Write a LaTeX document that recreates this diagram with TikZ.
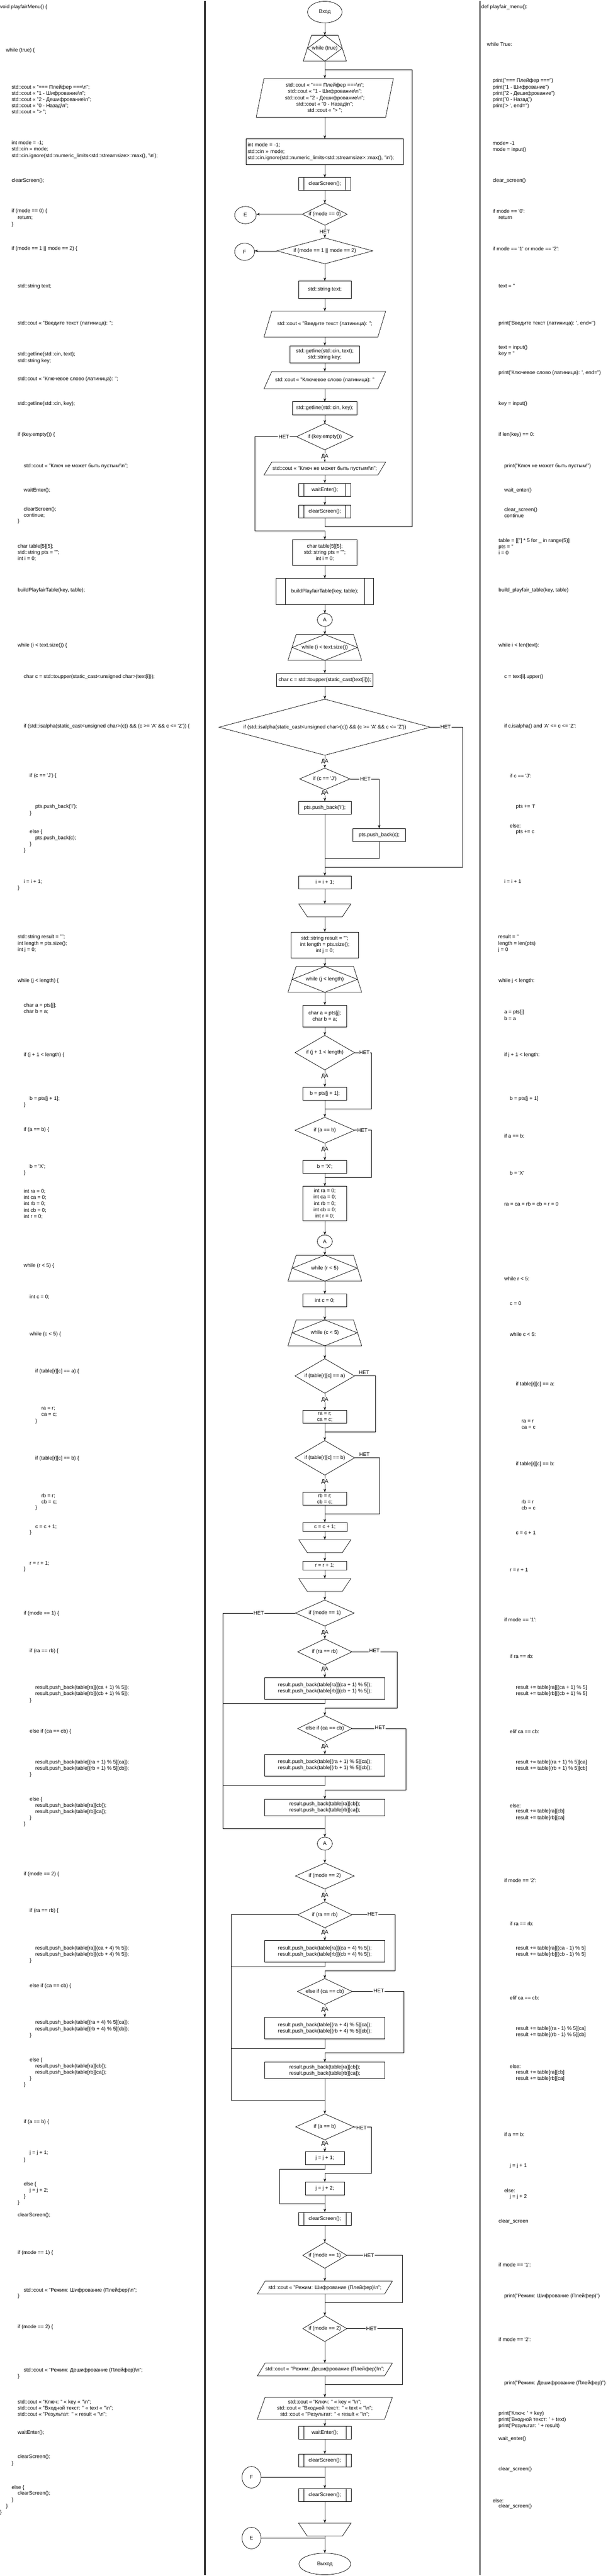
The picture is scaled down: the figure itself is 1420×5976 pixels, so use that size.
\documentclass[tikz,border=0pt]{standalone}
\usepackage{fontspec}
\setmainfont{Liberation Sans}
\usetikzlibrary{arrows.meta,shapes.geometric}
\newcommand\sq{\textquotesingle}
\newcommand\bsn{\textbackslash n}
\newcommand\Pio[1]{\draw[ln] ([xshift=18pt]#1.north west) -- (#1.north east) -- ([xshift=-18pt]#1.south east) -- (#1.south west) -- cycle;}
\newcommand\Pdia[1]{\draw[ln] (#1.north) -- (#1.east) -- (#1.south) -- (#1.west) -- cycle;}
\newcommand\Ploop[1]{\draw[ln] ([xshift=19pt]#1.north west) -- ([xshift=-19pt]#1.north east) -- (#1.south east) -- (#1.south west) -- cycle;
  \draw[ln] (#1.north) -- ([xshift=-10pt]#1.east) -- (#1.south) -- ([xshift=10pt]#1.west) -- cycle;}
\newcommand\Pend[1]{\draw[ln] (#1.north west) -- (#1.north east) -- ([xshift=-20pt]#1.south east) -- ([xshift=20pt]#1.south west) -- cycle;}
\tikzset{
  ln/.style={line width=0.9pt},
  arr/.style={ln,-{Stealth[length=8pt,width=5.5pt]}},
  box/.style={draw,ln,inner sep=2pt,outer sep=0pt,align=center},
  prebox/.style={box,path picture={\draw[ln] ([xshift=#1]path picture bounding box.north west) -- ([xshift=#1]path picture bounding box.south west); \draw[ln] ([xshift=-#1]path picture bounding box.north east) -- ([xshift=-#1]path picture bounding box.south east);}},
  prebox/.default=12pt,
  shp/.style={inner sep=1pt,outer sep=0pt,align=center},
  termx/.style={draw,ln,ellipse,inner sep=0pt,outer sep=0pt},
  cd/.style={anchor=west,inner sep=0pt,outer sep=0pt,align=left},
  lbl/.style={fill=white,inner sep=1.5pt},
}
\begin{document}
\begin{tikzpicture}[x=1pt,y=-1pt,font=\fontsize{12}{14.5}\selectfont]
\fill[white] (0,0) rectangle (1420,5976);
\useasboundingbox (0,0) rectangle (1420,5976);
\draw[line width=3pt] (475,2) -- (475,5974);
\draw[line width=3pt] (1113,2) -- (1113,5974);

% ---------------- flowchart nodes ----------------
\node[termx,minimum width=80pt,minimum height=50pt] (start) at (753,28) {Вход};
\node[shp,minimum width=100pt,minimum height=60pt] (L1) at (753,112) {while (true)}; \Ploop{L1}
\coordinate (J1) at (753,162);
\node[shp,minimum width=318pt,minimum height=90pt] (io1) at (753,227) {std::cout << "=== Плейфер ===\bsn";\\std::cout << "1 - Шифрование\bsn";\\std::cout << "2 - Дешифрование\bsn";\\std::cout << "0 - Назад\bsn";\\std::cout << "> ";}; \Pio{io1}
\node[box,minimum width=364pt,minimum height=60pt,text width=358pt,align=left] (b1) at (753,352) {int mode = -1;\\std::cin >> mode;\\std::cin.ignore(std::numeric\_limits<std::streamsize>::max(), \sq\bsn\sq);};
\node[prebox,minimum width=121pt,minimum height=30pt] (cs1) at (753,427) {clearScreen();};
\node[shp,minimum width=104pt,minimum height=51pt] (d1) at (753,497) {if (mode == 0)}; \Pdia{d1}
\node[termx,minimum width=50pt,minimum height=40pt] (E1) at (569,499) {E};
\node[shp,minimum width=222pt,minimum height=60pt] (d2) at (753,582) {if (mode == 1 || mode == 2)}; \Pdia{d2}
\node[termx,minimum width=46pt,minimum height=40pt] (F1) at (567,584) {F};
\node[box,minimum width=122pt,minimum height=40pt] (b2) at (753,672) {std::string text;};
\node[shp,minimum width=282pt,minimum height=60pt] (io2) at (753,752) {std::cout << "Введите текст (латиница): ";}; \Pio{io2}
\node[box,minimum width=162pt,minimum height=40pt] (b3) at (753,822) {std::getline(std::cin, text);\\std::string key;};
\node[shp,minimum width=282pt,minimum height=40pt] (io3) at (753,882) {std::cout << "Ключевое слово (латиница): "}; \Pio{io3}
\node[box,minimum width=149pt,minimum height=30pt] (b4) at (753,947) {std::getline(std::cin, key);};
\node[shp,minimum width=131pt,minimum height=61pt] (d3) at (753,1013) {if (key.empty())}; \Pdia{d3}
\node[shp,minimum width=282pt,minimum height=30pt] (io4) at (753,1087) {std::cout << "Ключ не может быть пустым!\bsn";}; \Pio{io4}
\node[prebox,minimum width=121pt,minimum height=30pt] (pw1) at (753,1136) {waitEnter();};
\node[prebox,minimum width=121pt,minimum height=30pt] (pc2) at (753,1187) {clearScreen();};
\node[box,minimum width=149pt,minimum height=60pt] (b5) at (753,1282) {char table[5][5];\\std::string pts = "";\\int i = 0;};
\node[prebox=21pt,minimum width=226pt,minimum height=60pt] (pb) at (753,1372) {buildPlayfairTable(key, table);};
\node[termx,minimum width=35pt,minimum height=30pt] (A1) at (753,1438) {A};
\node[shp,minimum width=171pt,minimum height=60pt] (L2) at (753,1502) {while (i < text.size())}; \Ploop{L2}
\node[box,minimum width=223pt,minimum height=30pt] (b6) at (753,1577) {char c = std::toupper(static\_cast(text[i]));};
\node[shp,minimum width=490pt,minimum height=130pt] (d4) at (753,1687) {if (std::isalpha(static\_cast<unsigned char>(c)) \&\& (c >= \sq A\sq\ \&\& c <= \sq Z\sq))}; \Pdia{d4}
\node[shp,minimum width=117pt,minimum height=50pt] (d5) at (753,1807) {if (c == \sq J\sq)}; \Pdia{d5}
\node[box,minimum width=122pt,minimum height=30pt] (b7) at (753,1874) {pts.push\_back(\sq I\sq);};
\node[box,minimum width=122pt,minimum height=30pt] (b8) at (879,1937) {pts.push\_back(c);};
\node[box,minimum width=122pt,minimum height=30pt] (b9) at (753,2047) {i = i + 1;};
\node[shp,minimum width=121pt,minimum height=30pt] (LE1) at (753,2112) {}; \Pend{LE1}
\node[box,minimum width=156pt,minimum height=60pt] (b10) at (753,2192) {std::string result = "";\\int length = pts.size();\\int j = 0;};
\node[shp,minimum width=171pt,minimum height=60pt] (L3) at (753,2272) {while (j < length)}; \Ploop{L3}
\node[box,minimum width=102pt,minimum height=50pt] (b11) at (753,2357) {char a = pts[j];\\char b = a;};
\node[shp,minimum width=138pt,minimum height=80pt] (d6) at (753,2442) {if (j + 1 < length)}; \Pdia{d6}
\node[box,minimum width=102pt,minimum height=30pt] (b12) at (753,2537) {b = pts[j + 1];};
\node[shp,minimum width=138pt,minimum height=60pt] (d7) at (753,2622) {if (a == b)}; \Pdia{d7}
\node[box,minimum width=102pt,minimum height=30pt] (b13) at (753,2707) {b = \sq X\sq;};
\node[box,minimum width=102pt,minimum height=80pt] (b14) at (753,2792) {int ra = 0;\\int ca = 0;\\int rb = 0;\\int cb = 0;\\int r = 0;};
\node[termx,minimum width=35pt,minimum height=30pt] (A2) at (753,2880) {A};
\node[shp,minimum width=171pt,minimum height=60pt] (L4) at (753,2942) {while (r < 5)}; \Ploop{L4}
\node[box,minimum width=102pt,minimum height=30pt] (b15) at (753,3017) {int c = 0;};
\node[shp,minimum width=171pt,minimum height=60pt] (L5) at (753,3092) {while (c < 5)}; \Ploop{L5}
\node[shp,minimum width=138pt,minimum height=80pt] (d8) at (753,3192) {if (table[r][c] == a)}; \Pdia{d8}
\node[box,minimum width=102pt,minimum height=30pt] (b16) at (753,3287) {ra = r;\\ca = c;};
\node[shp,minimum width=138pt,minimum height=80pt] (d9) at (753,3382) {if (table[r][c] == b)}; \Pdia{d9}
\node[box,minimum width=102pt,minimum height=30pt] (b17) at (753,3477) {rb = r;\\cb = c;};
\node[box,minimum width=103pt,minimum height=20pt] (b18) at (753,3542) {c = c + 1;};
\node[shp,minimum width=121pt,minimum height=30pt] (LE2) at (753,3587) {}; \Pend{LE2}
\node[box,minimum width=102pt,minimum height=20pt] (b19) at (753,3632) {r = r + 1;};
\node[shp,minimum width=121pt,minimum height=30pt] (LE3) at (753,3677) {}; \Pend{LE3}
\node[shp,minimum width=136pt,minimum height=60pt] (d10) at (753,3742) {if (mode == 1)}; \Pdia{d10}
\node[shp,minimum width=126pt,minimum height=60pt] (d11) at (753,3832) {if (ra == rb)}; \Pdia{d11}
\node[box,minimum width=279pt,minimum height=50pt] (b20) at (753,3917) {result.push\_back(table[ra][(ca + 1) \% 5]);\\result.push\_back(table[rb][(cb + 1) \% 5]);};
\node[shp,minimum width=126pt,minimum height=60pt] (d12) at (753,4010) {else if (ca == cb)}; \Pdia{d12}
\node[box,minimum width=279pt,minimum height=50pt] (b21) at (753,4095) {result.push\_back(table[(ra + 1) \% 5][ca]);\\result.push\_back(table[(rb + 1) \% 5][cb]);};
\node[box,minimum width=279pt,minimum height=38pt] (b22) at (753,4193) {result.push\_back(table[ra][cb]);\\result.push\_back(table[rb][ca]);};
\node[termx,minimum width=35pt,minimum height=30pt] (A3) at (753,4277) {A};
\node[shp,minimum width=136pt,minimum height=60pt] (d13) at (753,4352) {if (mode == 2)}; \Pdia{d13}
\node[shp,minimum width=126pt,minimum height=60pt] (d14) at (753,4442) {if (ra == rb)}; \Pdia{d14}
\node[box,minimum width=279pt,minimum height=50pt] (b23) at (753,4527) {result.push\_back(table[ra][(ca + 4) \% 5]);\\result.push\_back(table[rb][(cb + 4) \% 5]);};
\node[shp,minimum width=127pt,minimum height=60pt] (d15) at (753,4620) {else if (ca == cb)}; \Pdia{d15}
\node[box,minimum width=279pt,minimum height=50pt] (b24) at (753,4705) {result.push\_back(table[(ra + 4) \% 5][ca]);\\result.push\_back(table[(rb + 4) \% 5][cb]);};
\node[box,minimum width=279pt,minimum height=38pt] (b25) at (753,4803) {result.push\_back(table[ra][cb]);\\result.push\_back(table[rb][ca]);};
\node[shp,minimum width=135pt,minimum height=60pt] (d16) at (753,4934) {if (a == b)}; \Pdia{d16}
\node[box,minimum width=91pt,minimum height=30pt] (b26) at (753,5007) {j = j + 1;};
\node[box,minimum width=91pt,minimum height=30pt] (b27) at (753,5077) {j = j + 2;};
\node[prebox,minimum width=122pt,minimum height=30pt] (pc3) at (753,5147) {clearScreen();};
\node[shp,minimum width=102pt,minimum height=60pt] (d17) at (753,5232) {if (mode == 1)}; \Pdia{d17}
\node[shp,minimum width=313pt,minimum height=30pt] (io5) at (753,5307) {std::cout << "Режим: Шифрование (Плейфер)\bsn";}; \Pio{io5}
\node[shp,minimum width=102pt,minimum height=60pt] (d18) at (753,5402) {if (mode == 2)}; \Pdia{d18}
\node[shp,minimum width=313pt,minimum height=30pt] (io6) at (753,5497) {std::cout << "Режим: Дешифрование (Плейфер)\bsn";}; \Pio{io6}
\node[shp,minimum width=313pt,minimum height=51pt] (io7) at (753,5587) {std::cout << "Ключ: " << key << "\bsn";\\std::cout << "Входной текст: " << text << "\bsn";\\std::cout << "Результат: " << result << "\bsn";}; \Pio{io7}
\node[prebox,minimum width=122pt,minimum height=30pt] (pw2) at (753,5644) {waitEnter();};
\node[prebox,minimum width=122pt,minimum height=30pt] (pc4) at (753,5708) {clearScreen();};
\node[termx,minimum width=44pt,minimum height=50pt] (F2) at (583,5747) {F};
\node[prebox,minimum width=122pt,minimum height=30pt] (pc5) at (753,5788) {clearScreen();};
\node[shp,minimum width=122pt,minimum height=30pt] (LE4) at (753,5868) {}; \Pend{LE4}
\node[termx,minimum width=44pt,minimum height=50pt] (E2) at (583,5888) {E};
\node[termx,minimum width=120pt,minimum height=50pt] (stop) at (753,5948) {Выход};

% ---------------- connectors ----------------
\draw[arr] (start.south) -- (L1.north);
\draw[ln] (L1.south) -- (J1);
\draw[arr] (J1) -- (io1.north);
\draw[arr] (io1.south) -- (b1.north);
\draw[arr] (b1.south) -- (cs1.north);
\draw[arr] (cs1.south) -- (d1.north);
\draw[arr] (d1.west) -- (d1.west -| E1.east);
\draw[arr] (d1.south) -- (d2.north);
\draw[arr] (d2.west) -- (d2.west -| F1.east);
\draw[arr] (d2.south) -- (b2.north);
\draw[arr] (b2.south) -- (io2.north);
\draw[arr] (io2.south) -- (b3.north);
\draw[arr] (b3.south) -- (io3.north);
\draw[arr] (io3.south) -- (b4.north);
\draw[arr] (b4.south) -- (d3.north);
\draw[arr] (d3.south) -- (io4.north);
\draw[arr] (io4.south) -- (pw1.north);
\draw[arr] (pw1.south) -- (pc2.north);
\draw[ln] (pc2.south) -- (753,1222) -- (955,1222) -- (955,162) -- (J1);
\draw[arr] (d3.west) -- (591,1013) -- (591,1232) -- (753,1232) -- (b5.north);
\draw[arr] (b5.south) -- (pb.north);
\draw[arr] (pb.south) -- (A1.north);
\draw[arr] (A1.south) -- (L2.north);
\draw[arr] (L2.south) -- (b6.north);
\draw[arr] (b6.south) -- (d4.north);
\draw[arr] (d4.south) -- (d5.north);
\draw[arr] (d5.south) -- (b7.north);
\draw[arr] (d5.east) -| (b8.north);
\coordinate (J3) at (753,2012);
\draw[ln] (b7.south) -- (J3);
\draw[ln] (b8.south) |- (753,1992);
\draw[ln] (d4.east) -- (1072,1687) -- (1072,2012) -- (J3);
\draw[arr] (J3) -- (b9.north);
\draw[arr] (b9.south) -- (LE1.north);
\draw[arr] (LE1.south) -- (b10.north);
\draw[arr] (b10.south) -- (L3.north);
\draw[arr] (L3.south) -- (b11.north);
\draw[arr] (b11.south) -- (d6.north);
\draw[arr] (d6.south) -- (b12.north);
\coordinate (J4) at (753,2572);
\draw[ln] (b12.south) -- (J4);
\draw[ln] (d6.east) -- (861,2442) -- (861,2572) -- (J4);
\draw[arr] (J4) -- (d7.north);
\draw[arr] (d7.south) -- (b13.north);
\coordinate (J5) at (753,2732);
\draw[ln] (b13.south) -- (J5);
\draw[ln] (d7.east) -- (861,2622) -- (861,2732) -- (J5);
\draw[arr] (J5) -- (b14.north);
\draw[arr] (b14.south) -- (A2.north);
\draw[arr] (A2.south) -- (L4.north);
\draw[arr] (L4.south) -- (b15.north);
\draw[arr] (b15.south) -- (L5.north);
\draw[arr] (L5.south) -- (d8.north);
\draw[arr] (d8.south) -- (b16.north);
\coordinate (J6) at (753,3322);
\draw[ln] (b16.south) -- (J6);
\draw[ln] (d8.east) -- (870,3192) -- (870,3322) -- (J6);
\draw[arr] (J6) -- (d9.north);
\draw[arr] (d9.south) -- (b17.north);
\coordinate (J7) at (753,3512);
\draw[ln] (b17.south) -- (J7);
\draw[ln] (d9.east) -- (880,3382) -- (880,3512) -- (J7);
\draw[arr] (J7) -- (b18.north);
\draw[arr] (b18.south) -- (LE2.north);
\draw[arr] (LE2.south) -- (b19.north);
\draw[arr] (b19.south) -- (LE3.north);
\draw[arr] (LE3.south) -- (d10.north);
\draw[arr] (d10.south) -- (d11.north);
\draw[arr] (d11.south) -- (b20.north);
\draw[ln] (b20.south) -- (753,3952) -- (517,3952);
\draw[arr] (d11.east) -- (921,3832) -- (921,3962) -- (753,3962) -- (d12.north);
\draw[arr] (d12.south) -- (b21.north);
\draw[ln] (b21.south) -- (753,4142) -- (517,4142);
\draw[arr] (d12.east) -- (941,4010) -- (941,4152) -- (753,4152) -- (b22.north);
\coordinate (J8) at (753,4242);
\draw[ln] (d10.west) -- (517,3742) -- (517,4242) -- (J8);
\draw[arr] (b22.south) -- (A3.north);
\draw[arr] (A3.south) -- (d13.north);
\draw[arr] (d13.south) -- (d14.north);
\draw[arr] (d14.south) -- (b23.north);
\draw[ln] (b23.south) -- (753,4562) -- (536,4562);
\draw[arr] (d14.east) -- (916,4442) -- (916,4572) -- (753,4572) -- (d15.north);
\draw[arr] (d15.south) -- (b24.north);
\draw[ln] (b24.south) -- (753,4752) -- (536,4752);
\draw[arr] (d15.east) -- (936,4620) -- (936,4762) -- (753,4762) -- (b25.north);
\coordinate (J9) at (753,4872);
\draw[ln] (d14.west) -- (536,4442) -- (536,4872) -- (J9);
\draw[arr] (b25.south) -- (d16.north);
\draw[arr] (d16.south) -- (b26.north);
\coordinate (J10) at (753,5112);
\draw[ln] (b26.south) -- (753,5032) -- (648,5032) -- (648,5112) -- (J10);
\draw[arr] (d16.east) -- (861,4934) -- (861,5042) -- (753,5042) -- (b27.north);
\draw[arr] (b27.south) -- (pc3.north);
\draw[arr] (pc3.south) -- (d17.north);
\draw[arr] (d17.south) -- (io5.north);
\coordinate (J11) at (753,5342);
\draw[ln] (io5.south) -- (J11);
\draw[ln] (d17.east) -- (933,5232) -- (933,5342) -- (J11);
\draw[arr] (J11) -- (d18.north);
\draw[arr] (d18.south) -- (io6.north);
\coordinate (J12) at (753,5532);
\draw[ln] (io6.south) -- (J12);
\draw[ln] (d18.east) -- (933,5402) -- (933,5532) -- (J12);
\draw[arr] (J12) -- (io7.north);
\draw[arr] (io7.south) -- (pw2.north);
\draw[arr] (pw2.south) -- (pc4.north);
\draw[arr] (pc4.south) -- (pc5.north);
\draw[ln] (F2.east) -- (F2.east -| pc5.north);
\draw[arr] (pc5.south) -- (LE4.north);
\draw[arr] (LE4.south) -- (stop.north);
\draw[ln] (E2.east) -- (E2.east -| stop.north);

% ---------------- branch labels ----------------
\node[lbl] (n1) at (753,538) {НЕТ};
\node[lbl] (n2) at (658,1013) {НЕТ};
\node[lbl] (y1) at (753,1059) {ДА};
\node[lbl] (n3) at (1033,1687) {НЕТ};
\node[lbl] (y2) at (753,1767) {ДА};
\node[lbl] (n4) at (847,1807) {НЕТ};
\node[lbl] (y3) at (753,1839) {ДА};
\node[lbl] (n5) at (845,2442) {НЕТ};
\node[lbl] (y4) at (753,2497) {ДА};
\node[lbl] (n6) at (840,2622) {НЕТ};
\node[lbl] (y5) at (753,2667) {ДА};
\node[inner sep=1.5pt,anchor=south] (n7) at (844,3190) {НЕТ};
\node[lbl] (y6) at (753,3247) {ДА};
\node[inner sep=1.5pt,anchor=south] (n8) at (845,3380) {НЕТ};
\node[lbl] (y7) at (753,3437) {ДА};
\node[lbl] (n9) at (600,3742) {НЕТ};
\node[lbl] (y8) at (753,3787) {ДА};
\node[lbl] (n10) at (868,3830) {НЕТ};
\node[lbl] (y9) at (753,3873) {ДА};
\node[lbl] (n11) at (881,4008) {НЕТ};
\node[lbl] (y10) at (753,4052) {ДА};
\node[lbl] (y11) at (753,4397) {ДА};
\node[lbl] (n12) at (864,4440) {НЕТ};
\node[lbl] (y12) at (753,4483) {ДА};
\node[lbl] (n13) at (878,4618) {НЕТ};
\node[lbl] (y13) at (753,4662) {ДА};
\node[lbl] (n14) at (838,4936) {НЕТ};
\node[lbl] (y14) at (753,4973) {ДА};
\node[lbl] (n15) at (855,5232) {НЕТ};
\node[lbl] (n16) at (861,5402) {НЕТ};

% ---------------- C++ code (left) ----------------
\node[cd] (l1) at (0,17) {void playfairMenu() \{};
\node[cd] (l2) at (14,117) {while (true) \{};
\node[cd] (l3) at (27,231) {std::cout << "=== Плейфер ===\bsn";\\std::cout << "1 - Шифрование\bsn";\\std::cout << "2 - Дешифрование\bsn";\\std::cout << "0 - Назад\bsn";\\std::cout << "> ";};
\node[cd] (l4) at (27,347) {int mode = -1;\\std::cin >> mode;\\std::cin.ignore(std::numeric\_limits<std::streamsize>::max(), \sq\bsn\sq);};
\node[cd] (l5) at (27,419) {clearScreen();};
\node[cd] (l6) at (27,490) {if (mode == 0) \{};
\node[cd] (l7) at (41,505) {return;};
\node[cd] (l8) at (27,521) {\}};
\node[cd] (l9) at (27,577) {if (mode == 1 || mode == 2) \{};
\node[cd] (l10) at (41,664) {std::string text;};
\node[cd] (l11) at (41,751) {std::cout << "Введите текст (латиница): ";};
\node[cd] (l12) at (41,830) {std::getline(std::cin, text);\\std::string key;};
\node[cd] (l13) at (41,879) {std::cout << "Ключевое слово (латиница): ";};
\node[cd] (l14) at (41,937) {std::getline(std::cin, key);};
\node[cd] (l15) at (41,1009) {if (key.empty()) \{};
\node[cd] (l16) at (55,1082) {std::cout << "Ключ не может быть пустым!\bsn";};
\node[cd] (l17) at (55,1138) {waitEnter();};
\node[cd] (l18) at (55,1189) {clearScreen();\\continue;};
\node[cd] (l19) at (41,1210) {\}};
\node[cd] (l20) at (41,1282) {char table[5][5];\\std::string pts = "";\\int i = 0;};
\node[cd] (l21) at (41,1369) {buildPlayfairTable(key, table);};
\node[cd] (l22) at (41,1497) {while (i < text.size()) \{};
\node[cd] (l23) at (55,1570) {char c = std::toupper(static\_cast<unsigned char>(text[i]));};
\node[cd] (l24) at (55,1685) {if (std::isalpha(static\_cast<unsigned char>(c)) \&\& (c >= \sq A\sq\ \&\& c <= \sq Z\sq)) \{};
\node[cd] (l25) at (69,1800) {if (c == \sq J\sq) \{};
\node[cd] (l26) at (82,1872) {pts.push\_back(\sq I\sq);};
\node[cd] (l27) at (69,1887) {\}};
\node[cd] (l28) at (69,1930) {else \{};
\node[cd] (l29) at (82,1944) {pts.push\_back(c);};
\node[cd] (l30) at (69,1959) {\}};
\node[cd] (l31) at (55,1973) {\}};
\node[cd] (l32) at (55,2045) {i = i + 1;};
\node[cd] (l33) at (41,2060) {\}};
\node[cd] (l34) at (41,2189) {std::string result = "";\\int length = pts.size();\\int j = 0;};
\node[cd] (l35) at (41,2275) {while (j < length) \{};
\node[cd] (l36) at (55,2340) {char a = pts[j];\\char b = a;};
\node[cd] (l37) at (55,2448) {if (j + 1 < length) \{};
\node[cd] (l38) at (69,2549) {b = pts[j + 1];};
\node[cd] (l39) at (55,2564) {\}};
\node[cd] (l40) at (55,2621) {if (a == b) \{};
\node[cd] (l41) at (69,2707) {b = \sq X\sq;};
\node[cd] (l42) at (55,2721) {\}};
\node[cd] (l43) at (55,2793) {int ra = 0;\\int ca = 0;\\int rb = 0;\\int cb = 0;\\int r = 0;};
\node[cd] (l44) at (55,2937) {while (r < 5) \{};
\node[cd] (l45) at (69,3009) {int c = 0;};
\node[cd] (l46) at (69,3096) {while (c < 5) \{};
\node[cd] (l47) at (82,3182) {if (table[r][c] == a) \{};
\node[cd] (l48) at (96,3275) {ra = r;\\ca = c;};
\node[cd] (l49) at (82,3297) {\}};
\node[cd] (l50) at (82,3383) {if (table[r][c] == b) \{};
\node[cd] (l51) at (96,3477) {rb = r;\\cb = c;};
\node[cd] (l52) at (82,3498) {\}};
\node[cd] (l53) at (82,3542) {c = c + 1;};
\node[cd] (l54) at (69,3556) {\}};
\node[cd] (l55) at (69,3627) {r = r + 1;};
\node[cd] (l56) at (55,3641) {\}};
\node[cd] (l57) at (55,3743) {if (mode == 1) \{};
\node[cd] (l58) at (69,3830) {if (ra == rb) \{};
\node[cd] (l59) at (82,3923) {result.push\_back(table[ra][(ca + 1) \% 5]);\\result.push\_back(table[rb][(cb + 1) \% 5]);};
\node[cd] (l60) at (69,3945) {\}};
\node[cd] (l61) at (69,4017) {else if (ca == cb) \{};
\node[cd] (l62) at (82,4096) {result.push\_back(table[(ra + 1) \% 5][ca]);\\result.push\_back(table[(rb + 1) \% 5][cb]);};
\node[cd] (l63) at (69,4117) {\}};
\node[cd] (l64) at (69,4175) {else \{};
\node[cd] (l65) at (82,4196) {result.push\_back(table[ra][cb]);\\result.push\_back(table[rb][ca]);};
\node[cd] (l66) at (69,4218) {\}};
\node[cd] (l67) at (55,4232) {\}};
\node[cd] (l68) at (55,4348) {if (mode == 2) \{};
\node[cd] (l69) at (69,4433) {if (ra == rb) \{};
\node[cd] (l70) at (82,4527) {result.push\_back(table[ra][(ca + 4) \% 5]);\\result.push\_back(table[rb][(cb + 4) \% 5]);};
\node[cd] (l71) at (69,4549) {\}};
\node[cd] (l72) at (69,4607) {else if (ca == cb) \{};
\node[cd] (l73) at (82,4700) {result.push\_back(table[(ra + 4) \% 5][ca]);\\result.push\_back(table[(rb + 4) \% 5][cb]);};
\node[cd] (l74) at (69,4722) {\}};
\node[cd] (l75) at (69,4779) {else \{};
\node[cd] (l76) at (82,4801) {result.push\_back(table[ra][cb]);\\result.push\_back(table[rb][ca]);};
\node[cd] (l77) at (69,4822) {\}};
\node[cd] (l78) at (55,4837) {\}};
\node[cd] (l79) at (55,4923) {if (a == b) \{};
\node[cd] (l80) at (69,4995) {j = j + 1;};
\node[cd] (l81) at (55,5011) {\}};
\node[cd] (l82) at (55,5068) {else \{};
\node[cd] (l83) at (69,5082) {j = j + 2;};
\node[cd] (l84) at (55,5096) {\}};
\node[cd] (l85) at (41,5110) {\}};
\node[cd] (l86) at (41,5139) {clearScreen();};
\node[cd] (l87) at (41,5226) {if (mode == 1) \{};
\node[cd] (l88) at (55,5313) {std::cout << "Режим: Шифрование (Плейфер)\bsn";};
\node[cd] (l89) at (41,5327) {\}};
\node[cd] (l90) at (41,5398) {if (mode == 2) \{};
\node[cd] (l91) at (55,5499) {std::cout << "Режим: Дешифрование (Плейфер)\bsn";};
\node[cd] (l92) at (41,5513) {\}};
\node[cd] (l93) at (41,5587) {std::cout << "Ключ: " << key << "\bsn";\\std::cout << "Входной текст: " << text << "\bsn";\\std::cout << "Результат: " << result << "\bsn";};
\node[cd] (l94) at (41,5644) {waitEnter();};
\node[cd] (l95) at (41,5700) {clearScreen();};
\node[cd] (l96) at (27,5715) {\}};
\node[cd] (l97) at (27,5771) {else \{};
\node[cd] (l98) at (41,5785) {clearScreen();};
\node[cd] (l99) at (27,5800) {\}};
\node[cd] (l100) at (14,5814) {\}};
\node[cd] (l101) at (0,5829) {\}};

% ---------------- Python code (right) ----------------
\node[cd] (r1) at (1116,17) {def playfair\_menu():};
\node[cd] (r2) at (1129,103) {while True:};
\node[cd] (r3) at (1142,217) {print("=== Плейфер ===")\\print("1 - Шифрование")\\print("2 - Дешифрование")\\print("0 - Назад")\\print(\sq> \sq, end=\sq\sq)};
\node[cd] (r4) at (1142,340) {mode= -1\\mode = input()};
\node[cd] (r5) at (1142,419) {clear\_screen()};
\node[cd] (r6) at (1142,490) {if mode == \sq 0\sq:};
\node[cd] (r7) at (1156,505) {return};
\node[cd] (r8) at (1142,577) {if mode == \sq 1\sq\ or mode == \sq 2\sq:};
\node[cd] (r9) at (1156,664) {text = \sq\sq};
\node[cd] (r10) at (1156,751) {print(\sq Введите текст (латиница): \sq, end=\sq\sq)};
\node[cd] (r11) at (1156,814) {text = input()\\key = \sq\sq};
\node[cd] (r12) at (1156,865) {print(\sq Ключевое слово (латиница): \sq, end=\sq\sq)};
\node[cd] (r13) at (1156,937) {key = input()};
\node[cd] (r14) at (1156,1009) {if len(key) == 0:};
\node[cd] (r15) at (1169,1082) {print("Ключ не может быть пустым!")};
\node[cd] (r16) at (1169,1138) {wait\_enter()};
\node[cd] (r17) at (1169,1189) {clear\_screen()\\continue};
\node[cd] (r18) at (1156,1268) {table = [[\sq\sq] * 5 for \_ in range(5)]\\pts = \sq\sq\\i = 0};
\node[cd] (r19) at (1156,1369) {build\_playfair\_table(key, table)};
\node[cd] (r20) at (1156,1497) {while i < len(text):};
\node[cd] (r21) at (1169,1570) {c = text[i].upper()};
\node[cd] (r22) at (1169,1685) {if c.isalpha() and \sq A\sq\ <= c <= \sq Z\sq:};
\node[cd] (r23) at (1182,1800) {if c == \sq J\sq:};
\node[cd] (r24) at (1196,1872) {pts += \sq I\sq};
\node[cd] (r25) at (1182,1916) {else:};
\node[cd] (r26) at (1196,1930) {pts += c};
\node[cd] (r27) at (1169,2045) {i = i + 1};
\node[cd] (r28) at (1155,2189) {result = \sq\sq\\length = len(pts)\\j = 0};
\node[cd] (r29) at (1156,2275) {while j < length:};
\node[cd] (r30) at (1169,2355) {a = pts[j]\\b = a};
\node[cd] (r31) at (1169,2448) {if j + 1 < length:};
\node[cd] (r32) at (1182,2549) {b = pts[j + 1]};
\node[cd] (r33) at (1169,2635) {if a == b:};
\node[cd] (r34) at (1182,2721) {b = \sq X\sq};
\node[cd] (r35) at (1169,2793) {ra = ca = rb = cb = r = 0};
\node[cd] (r36) at (1169,2966) {while r < 5:};
\node[cd] (r37) at (1182,3024) {c = 0};
\node[cd] (r38) at (1182,3096) {while c < 5:};
\node[cd] (r39) at (1196,3211) {if table[r][c] == a:};
\node[cd] (r40) at (1209,3304) {ra = r\\ca = c};
\node[cd] (r41) at (1196,3397) {if table[r][c] == b:};
\node[cd] (r42) at (1209,3491) {rb = r\\cb = c};
\node[cd] (r43) at (1196,3556) {c = c + 1};
\node[cd] (r44) at (1182,3642) {r = r + 1};
\node[cd] (r45) at (1169,3758) {if mode == \sq 1\sq:};
\node[cd] (r46) at (1182,3843) {if ra == rb:};
\node[cd] (r47) at (1196,3923) {result += table[ra][(ca + 1) \% 5]\\result += table[rb][(cb + 1) \% 5]};
\node[cd] (r48) at (1182,4017) {elif ca == cb:};
\node[cd] (r49) at (1196,4096) {result += table[(ra + 1) \% 5][ca]\\result += table[(rb + 1) \% 5][cb]};
\node[cd] (r50) at (1182,4189) {else:};
\node[cd] (r51) at (1196,4210) {result += table[ra][cb]\\result += table[rb][ca]};
\node[cd] (r52) at (1169,4362) {if mode == \sq 2\sq:};
\node[cd] (r53) at (1182,4463) {if ra == rb:};
\node[cd] (r54) at (1196,4527) {result += table[ra][(ca - 1) \% 5]\\result += table[rb][(cb - 1) \% 5]};
\node[cd] (r55) at (1182,4635) {elif ca == cb:};
\node[cd] (r56) at (1196,4714) {result += table[(ra - 1) \% 5][ca]\\result += table[(rb - 1) \% 5][cb]};
\node[cd] (r57) at (1182,4794) {else:};
\node[cd] (r58) at (1196,4815) {result += table[ra][cb]\\result += table[rb][ca]};
\node[cd] (r59) at (1169,4952) {if a == b:};
\node[cd] (r60) at (1182,5024) {j = j + 1};
\node[cd] (r61) at (1169,5082) {else:};
\node[cd] (r62) at (1182,5096) {j = j + 2};
\node[cd] (r63) at (1156,5153) {clear\_screen};
\node[cd] (r64) at (1156,5254) {if mode == \sq 1\sq:};
\node[cd] (r65) at (1169,5327) {print("Режим: Шифрование (Плейфер)")};
\node[cd] (r66) at (1156,5427) {if mode == \sq 2\sq:};
\node[cd] (r67) at (1169,5529) {print("Режим: Дешифрование (Плейфер)")};
\node[cd] (r68) at (1156,5614) {print(\sq Ключ: \sq\ + key)\\print(\sq Входной текст: \sq\ + text)\\print(\sq Результат: \sq\ + result)};
\node[cd] (r69) at (1156,5658) {wait\_enter()};
\node[cd] (r70) at (1156,5729) {clear\_screen()};
\node[cd] (r71) at (1142,5801) {else:};
\node[cd] (r72) at (1156,5815) {clear\_screen()};
\end{tikzpicture}
\end{document}
